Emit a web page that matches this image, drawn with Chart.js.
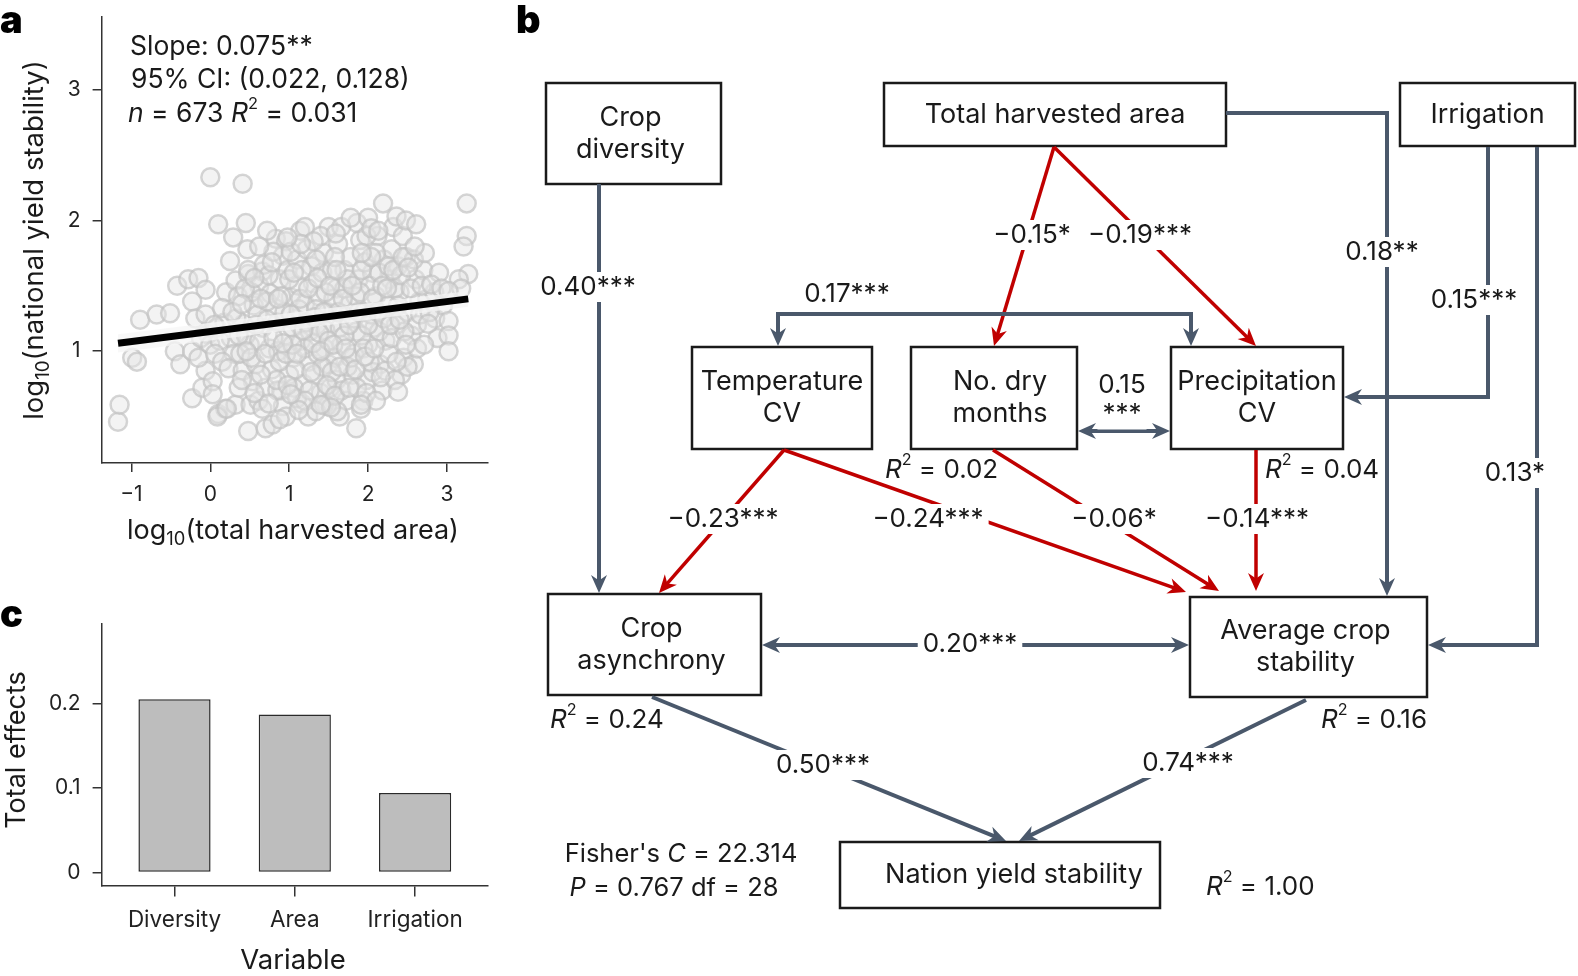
<!DOCTYPE html>
<html>
<head>
<meta charset="utf-8">
<script src="https://cdn.jsdelivr.net/npm/chart.js@4.4.1/dist/chart.umd.min.js"></script>
<style>
  html, body { margin: 0; padding: 0; background: #fff; }
  #wrap { position: relative; width: 1578px; height: 976px; }
  canvas { position: absolute; left: 0; top: 0; }
</style>
</head>
<body>
<div id="wrap">
  <canvas id="scatterChart" width="1578" height="976"></canvas>
  <canvas id="barChart" width="1578" height="976"></canvas>
  <canvas id="pathChart" width="1578" height="976"></canvas>
</div>
<script>
// ---- data ----
// panel a: log10(total harvested area) vs log10(national yield stability)
const areaStabilityPoints = [
  [-1.17,0.46],[-1.15,0.59],[-0.99,0.95],[-0.93,0.92],[-0.89,1.24],[-0.68,1.28],[-0.51,1.29],
  [-0.45,1.00],[-0.38,0.90],[-0.42,1.50],[-0.28,1.55],[-0.15,1.56],[-0.06,1.47],[-0.23,1.38],
  [-0.19,1.25],[-0.06,1.28],[-0.03,1.13],[-0.23,1.00],[-0.23,0.64],[-0.06,0.85],[-0.10,0.72],
  [-0.12,1.10],[-0.15,0.95],[0.00,1.05],[0.08,1.18],[0.18,1.22],[0.26,1.10],[0.30,0.98],
  [0.05,1.20],[0.12,1.08],[0.20,1.45],
  [0.00,2.33],[0.41,2.28],[0.10,1.97],[0.45,1.98],[0.29,1.87],[0.47,1.78],[0.25,1.69],
  [0.03,0.77],[0.03,0.67],[0.10,0.52],[0.19,0.56],[0.32,0.59],[0.48,0.39],[0.70,0.41],[0.79,0.44],
  [0.09,0.50],[0.21,0.56],[0.51,0.59],
  [0.32,1.54],[0.48,1.59],[0.66,1.61],[0.83,1.86],[0.96,1.84],[0.92,1.73],[0.15,1.33],
  [0.06,0.98],[0.15,0.92],[0.23,0.87],[0.41,0.85],[0.54,0.77],[0.61,0.62],[0.66,0.56],[0.36,0.72],
  [0.35,1.42],[0.42,1.21],[0.50,1.05],[0.38,0.98],[0.55,1.35],[0.62,1.50],[0.48,1.62],[0.58,0.90],
  [0.66,1.18],[0.70,0.72],[0.45,1.12],[0.60,1.28],[0.33,1.25],[0.52,1.45],[0.68,1.66],[0.40,0.78],
  [0.75,1.02],[0.82,1.33],[0.88,1.55],[0.78,0.86],[0.95,1.12],[1.02,1.41],[0.90,0.70],[0.85,1.22],
  [1.05,0.95],[0.98,1.62],[0.80,1.76],[1.08,1.25],[0.92,0.58],[0.76,1.44],[1.00,0.82],[1.10,1.70],
  [1.15,1.08],[1.20,1.36],[1.25,0.92],[1.30,1.52],[1.18,0.75],[1.35,1.20],[1.40,0.68],[1.28,1.65],
  [1.45,1.02],[1.38,1.42],[1.22,1.78],[1.48,1.30],[1.32,0.82],[1.42,1.60],[1.16,0.60],[1.50,0.90],
  [1.26,1.15],[1.44,1.75],
  [1.55,1.22],[1.60,1.48],[1.52,0.72],[1.66,1.05],[1.70,1.62],[1.58,0.95],[1.75,1.35],[1.80,0.82],
  [1.62,1.82],[1.72,0.62],[1.85,1.15],[1.68,1.28],[1.88,1.55],[1.56,1.40],[1.78,1.72],[1.82,0.98],
  [1.64,0.50],[1.90,1.85],
  [1.95,1.30],[2.00,1.05],[2.05,1.60],[1.98,0.78],[2.10,1.42],[2.15,0.90],[2.20,1.70],[2.08,1.18],
  [2.25,1.35],[2.12,1.88],[2.18,0.70],[2.28,1.55],[2.02,1.50],[2.22,1.08],[2.30,1.78],[1.94,0.62],
  [2.35,1.20],[2.40,1.45],[2.45,0.95],[2.38,1.65],[2.50,1.30],[2.55,1.12],[2.42,0.82],[2.60,1.55],
  [2.48,1.72],[2.65,1.38],[2.58,0.90],
  [0.62,1.08],[0.72,1.38],[0.86,1.00],[0.94,1.30],[1.04,1.18],[1.12,1.50],[1.20,1.02],[1.34,1.32],
  [1.46,1.16],[1.54,1.62],[1.64,1.18],[1.74,0.88],[1.84,1.42],[1.92,1.12],[2.04,1.28],[2.14,1.60],
  [2.26,0.98],[1.36,0.98],[1.06,0.72],[0.88,0.92],[1.60,0.78],[1.70,1.48],[1.96,1.68],[2.34,1.48],
  [0.56,0.68],[1.24,0.50],[1.48,0.58],[2.06,0.84],[1.14,1.92],[1.50,1.95],[0.72,1.92],[1.86,1.98],
  [2.32,1.95],[2.44,1.88],[2.70,1.62],[2.75,1.40],[2.85,1.25],[2.90,1.60],[2.62,1.20],[2.95,1.35],
  [1.44,0.59],[1.61,0.54],[1.91,0.56],[1.10,0.64],[0.85,0.70],
  [0.28,1.30],[0.36,1.12],[0.44,1.48],[0.52,0.95],[0.58,1.20],[0.64,1.40],[0.70,0.98],[0.74,1.58],
  [0.80,1.10],[0.84,0.78],[0.90,1.42],[0.96,0.98],[1.00,1.55],[1.04,1.05],[1.08,0.86],[1.12,1.32],
  [1.16,1.62],[1.22,1.22],[1.26,0.70],[1.30,1.06],[1.34,1.70],[1.38,1.14],[1.42,0.88],[1.46,1.45],
  [1.50,1.08],[1.54,0.84],[1.58,1.72],[1.62,1.30],[1.66,0.70],[1.70,1.12],[1.74,1.55],[1.78,0.95],
  [1.82,1.25],[1.86,0.72],[1.90,1.45],[1.94,1.02],[1.98,1.88],[2.02,0.92],[2.06,1.40],[2.10,1.75],
  [2.14,1.15],[2.18,1.50],[2.22,0.85],[2.26,1.65],[2.30,1.10],[2.34,0.78],[2.38,1.35],[2.42,1.58],
  [2.46,1.15],[2.50,0.88],[2.54,1.48],[2.58,1.70],[2.62,1.02],[2.66,1.28],[2.72,1.75],[2.78,1.30],
  [2.84,1.45],[2.88,1.10],
  [0.40,1.36],[0.46,1.00],[0.56,1.56],[0.64,0.82],[0.72,1.24],[0.78,1.68],[0.86,1.40],[0.92,1.06],
  [0.98,0.74],[1.02,1.28],[1.06,1.60],[1.10,0.98],[1.14,1.40],[1.18,1.16],[1.24,1.48],[1.28,0.84],
  [1.32,1.26],[1.36,1.56],[1.40,1.00],[1.44,1.30],[1.48,0.74],[1.52,1.50],[1.56,1.05],[1.60,1.62],
  [1.64,0.88],[1.68,1.40],[1.72,1.02],[1.76,1.20],[1.80,1.50],[1.84,0.86],[1.88,1.30],[1.92,1.62],
  [1.96,0.96],[2.00,1.20],[2.04,1.72],[2.08,1.02],[2.12,1.30],[2.16,0.80],[2.20,1.25],[2.24,1.48],
  [2.28,1.20],[2.32,1.62],[2.36,0.92],[2.40,1.24],[2.44,1.72],[2.48,1.05],
  [0.74,0.60],[0.96,0.50],[1.20,0.62],[1.34,0.54],[1.58,0.66],[1.76,0.72],[1.98,0.68],[2.10,0.62],
  [0.88,0.48],[1.12,0.55],
  [1.20,1.95],[1.40,1.88],[1.66,1.95],[1.92,1.75],[1.02,1.76],[0.62,1.80],[2.00,2.02],
  [2.19,2.13],[1.78,2.02],[2.36,2.03],[2.48,2.00],[2.61,1.97],[2.59,1.80],[3.25,2.13],[3.25,1.88],
  [3.21,1.80],[3.27,1.59],[3.15,1.55],[3.18,1.48],[2.68,1.50],[2.80,1.51],[2.93,1.48],[3.02,1.46],
  [2.76,1.21],[3.02,1.23],[3.02,1.12],[3.02,1.00],[2.71,1.05],[2.51,1.64],[2.38,0.69],[1.85,0.41],
  [1.53,0.57],[1.40,0.59],[1.91,0.59],[1.02,0.67],[2.04,1.94],[2.13,1.92],[1.59,1.90],[1.31,1.84],
  [1.15,1.82],[0.98,1.87]
];
const fitX = [-1.17, 3.27];
const fitY = [1.06, 1.40];
const ciLower = [0.99, 1.34];
const ciUpper = [1.13, 1.46];
const scatterXTicks = [-1, 0, 1, 2, 3];
const scatterYTicks = [1, 2, 3];
const fitSlope = '0.075**';
const fitCI = ['0.022', '0.128'];
const fitN = '673';
const fitR2 = '0.031';

// panel c: total effects
const barLabels = ['Diversity', 'Area', 'Irrigation'];
const barValues = [0.205, 0.187, 0.094];
const barTicks = [0, 0.1, 0.2];

// panel b: path model
const nodeNames = [
  ['Crop', 'diversity'], ['Total harvested area'], ['Irrigation'],
  ['Temperature', 'CV'], ['No. dry', 'months'], ['Precipitation', 'CV'],
  ['Crop', 'asynchrony'], ['Average crop', 'stability'], ['Nation yield stability']
];
const pathCoefs = [
  '0.40***', '−0.15*', '−0.19***', '0.18**', '0.15***', '0.13*', '0.17***', '0.15\n***',
  '−0.23***', '−0.24***', '−0.06*', '−0.14***', '0.20***', '0.50***', '0.74***'
];
const rSquared = ['0.02', '0.04', '0.24', '0.16', '1.00'];
const fisherC = '22.314';
const fisherP = '0.767';
const fisherDf = '28';

// ---- layout / style ----
const FONT = 'Inter, "Noto Sans", sans-serif';
const INK = '#1a1a1a';
const SLATE = '#4a586b';
const RED = '#c00000';

// x, y, w, h, text x-offset
const nodeBoxes = [
  [546, 83, 175, 101, -3], [884, 83, 342, 63, 0], [1400, 83, 175, 63, 0],
  [692, 347, 180, 102, 0], [911, 347, 166, 102, 6], [1171, 347, 172, 102, 0],
  [548, 594, 213, 101, -3], [1190, 597, 237, 100, -3], [840, 842, 320, 66, 14]
];
const pathGeom = [
  { pts: [[599, 184], [599, 593]], head: 'end', lab: [588, 287] },
  { pts: [[1054, 147], [994, 346]], head: 'end', lab: [1032, 235] },
  { pts: [[1054, 147], [1256, 346]], head: 'end', lab: [1140, 235] },
  { pts: [[1226, 113], [1387, 113], [1387, 596]], head: 'end', lab: [1382, 252] },
  { pts: [[1488, 147], [1488, 397], [1344, 397]], head: 'end', lab: [1474, 300] },
  { pts: [[1537, 147], [1537, 645], [1428, 645]], head: 'end', lab: [1515, 473] },
  { pts: [[778, 346], [778, 314], [1191, 314], [1191, 346]], head: 'both', lab: [847, 294] },
  { pts: [[1078, 431], [1170, 431]], head: 'both', lab: [1122, 400] },
  { pts: [[784, 450], [659, 593]], head: 'end', lab: [723, 519] },
  { pts: [[784, 450], [1186, 592]], head: 'end', lab: [928, 519] },
  { pts: [[993, 450], [1219, 591]], head: 'end', lab: [1114, 519] },
  { pts: [[1256, 450], [1256, 591]], head: 'end', lab: [1257, 519] },
  { pts: [[762, 645], [1189, 645]], head: 'both', lab: [970, 644] },
  { pts: [[652, 697], [1006, 841]], head: 'end', lab: [823, 765] },
  { pts: [[1306, 700], [1019, 841]], head: 'end', lab: [1188, 763] }
];
const r2Pos = [[885, 470], [1265, 470], [550, 720], [1321, 720], [1206, 887]];

// ---- helpers ----
function richText(ctx, parts, x, y, size, align) {
  const segs = parts.map(p => {
    const s = p.sup ? size * 0.62 : p.sub ? size * 0.68 : size;
    const f = (p.it ? 'italic ' : '') + s + 'px ' + FONT;
    ctx.font = f;
    return { p, f, w: ctx.measureText(p.t).width };
  });
  const total = segs.reduce((a, s) => a + s.w, 0);
  let cx = align === 'center' ? x - total / 2 : align === 'right' ? x - total : x;
  ctx.textAlign = 'left';
  ctx.textBaseline = 'middle';
  segs.forEach(s => {
    ctx.font = s.f;
    const dy = s.p.sup ? -size * 0.36 : s.p.sub ? size * 0.3 : 0;
    ctx.fillText(s.p.t, cx, y + dy);
    cx += s.w;
  });
}

function panelLetter(ctx, ch, x, y) {
  ctx.save();
  ctx.fillStyle = '#000';
  ctx.font = '900 38px Inter, "Liberation Sans", sans-serif';
  ctx.textAlign = 'left';
  ctx.textBaseline = 'alphabetic';
  ctx.fillText(ch, x, y);
  ctx.restore();
}

function arrowHead(ctx, tip, from, color) {
  const len = 18, half = 8;
  const dx = tip[0] - from[0], dy = tip[1] - from[1];
  const d = Math.hypot(dx, dy), ux = dx / d, uy = dy / d;
  const bx = tip[0] - ux * len, by = tip[1] - uy * len;
  ctx.beginPath();
  ctx.moveTo(tip[0], tip[1]);
  ctx.lineTo(bx - uy * half, by + ux * half);
  ctx.lineTo(tip[0] - ux * len * 0.7, tip[1] - uy * len * 0.7);
  ctx.lineTo(bx + uy * half, by - ux * half);
  ctx.closePath();
  ctx.fillStyle = color;
  ctx.fill();
}

function drawPath(ctx, pts, col, head, lw) {
  const cut = (a, b) => {
    const dx = b[0] - a[0], dy = b[1] - a[1], d = Math.hypot(dx, dy);
    return [a[0] + dx / d * 11, a[1] + dy / d * 11];
  };
  const p = pts.slice();
  const n = p.length;
  p[n - 1] = cut(pts[n - 1], pts[n - 2]);
  if (head === 'both') p[0] = cut(pts[0], pts[1]);
  ctx.strokeStyle = col;
  ctx.lineWidth = lw;
  ctx.lineJoin = 'miter';
  ctx.beginPath();
  p.forEach((q, i) => i ? ctx.lineTo(q[0], q[1]) : ctx.moveTo(q[0], q[1]));
  ctx.stroke();
  arrowHead(ctx, pts[n - 1], pts[n - 2], col);
  if (head === 'both') arrowHead(ctx, pts[0], pts[1], col);
}

const axisGrid = { drawOnChartArea: false, drawTicks: true, tickLength: 9, color: '#333', lineWidth: 1.5, offset: false };
const axisBorder = { color: '#333', width: 1.5 };
const tickFont = { family: FONT, size: 21 };
function fitV(s) { s.width = 70; s.paddingTop = 0; s.paddingBottom = 0; }
function fitH(s) { s.height = 60; s.paddingLeft = 0; s.paddingRight = 0; }

// ---- panel a ----
const scatterText = {
  id: 'scatterText',
  afterDraw(chart) {
    const ctx = chart.ctx;
    ctx.save();
    ctx.fillStyle = INK;
    richText(ctx, [{ t: 'Slope: ' + fitSlope }], 130, 47, 26.5, 'left');
    richText(ctx, [{ t: '95% CI: (' + fitCI[0] + ', ' + fitCI[1] + ')' }], 131, 80, 26.5, 'left');
    richText(ctx, [{ t: 'n', it: 1 }, { t: ' = ' + fitN + ' ' }, { t: 'R', it: 1 }, { t: '2', sup: 1 }, { t: ' = ' + fitR2 }], 128, 114, 26.5, 'left');
    richText(ctx, [{ t: 'log' }, { t: '10', sub: 1 }, { t: '(total harvested area)' }], 293, 531, 27, 'center');
    ctx.translate(35, 240);
    ctx.rotate(-Math.PI / 2);
    richText(ctx, [{ t: 'log' }, { t: '10', sub: 1 }, { t: '(national yield stability)' }], 0, 0, 27.5, 'center');
    ctx.restore();
    panelLetter(ctx, 'a', 0, 33);
  }
};

new Chart(document.getElementById('scatterChart'), {
  type: 'scatter',
  data: {
    datasets: [
      {
        type: 'line', order: 0,
        data: fitX.map((x, i) => ({ x, y: fitY[i] })),
        borderColor: '#000', borderWidth: 7, pointRadius: 0, borderCapStyle: 'butt'
      },
      {
        type: 'line', order: 1,
        data: fitX.map((x, i) => ({ x, y: ciUpper[i] })),
        borderWidth: 0, pointRadius: 0, fill: '+1', backgroundColor: 'rgba(246,246,246,0.75)'
      },
      {
        type: 'line', order: 1,
        data: fitX.map((x, i) => ({ x, y: ciLower[i] })),
        borderWidth: 0, pointRadius: 0
      },
      {
        order: 2,
        data: areaStabilityPoints.map(p => ({ x: p[0], y: p[1] })),
        pointRadius: 9, borderWidth: 2.5,
        borderColor: 'rgba(195,195,195,0.7)',
        backgroundColor: 'rgba(228,228,228,0.45)'
      }
    ]
  },
  options: {
    responsive: false,
    animation: false,
    devicePixelRatio: 1,
    layout: { autoPadding: false, padding: { left: 31.6, top: 17, right: 1090, bottom: 453 } },
    plugins: { legend: { display: false }, tooltip: { enabled: false } },
    scales: {
      x: {
        type: 'linear', min: -1.378, max: 3.52,
        afterFit: fitH,
        afterBuildTicks(s) { s.ticks = scatterXTicks.map(v => ({ value: v })); },
        ticks: { font: tickFont, color: '#222', padding: 10, maxRotation: 0, autoSkip: false,
          callback: v => v < 0 ? '−' + Math.abs(v) : String(v) },
        grid: axisGrid, border: axisBorder
      },
      y: {
        type: 'linear', min: 0.145, max: 3.555,
        afterFit: fitV,
        afterBuildTicks(s) { s.ticks = scatterYTicks.map(v => ({ value: v })); },
        ticks: { font: tickFont, color: '#222', padding: 12 },
        grid: axisGrid, border: axisBorder
      }
    }
  },
  plugins: [scatterText]
});

// ---- panel c ----
const barText = {
  id: 'barText',
  afterDraw(chart) {
    const ctx = chart.ctx;
    ctx.save();
    ctx.fillStyle = INK;
    richText(ctx, [{ t: 'Variable' }], 293, 961, 27.5, 'center');
    ctx.translate(17, 750);
    ctx.rotate(-Math.PI / 2);
    richText(ctx, [{ t: 'Total effects' }], 0, 0, 27, 'center');
    ctx.restore();
    panelLetter(ctx, 'c', 0, 627);
  }
};

new Chart(document.getElementById('barChart'), {
  type: 'bar',
  data: {
    datasets: [{
      data: barValues.map((v, i) => ({ x: i + 1, y: v })),
      backgroundColor: '#bdbdbd', borderColor: '#2a2a2a', borderWidth: 1.5,
      borderSkipped: false, barPercentage: 0.6, categoryPercentage: 1
    }]
  },
  options: {
    responsive: false,
    animation: false,
    devicePixelRatio: 1,
    layout: { autoPadding: false, padding: { left: 31.6, top: 624, right: 1090, bottom: 30.4 } },
    plugins: { legend: { display: false }, tooltip: { enabled: false } },
    scales: {
      x: {
        type: 'linear', min: 0.394, max: 3.606, offset: false,
        afterFit: fitH,
        afterBuildTicks(s) { s.ticks = barLabels.map((l, i) => ({ value: i + 1 })); },
        ticks: { font: { family: FONT, size: 22.5 }, color: '#222', padding: 10, maxRotation: 0, autoSkip: false,
          callback: v => barLabels[v - 1] || '' },
        grid: { ...axisGrid, tickLength: 11 }, border: axisBorder
      },
      y: {
        type: 'linear', min: -0.0155, max: 0.294,
        afterFit: fitV,
        afterBuildTicks(s) { s.ticks = barTicks.map(v => ({ value: v })); },
        ticks: { font: tickFont, color: '#222', padding: 12,
          callback: v => v === 0 ? '0' : v.toFixed(1) },
        grid: axisGrid, border: axisBorder
      }
    }
  },
  plugins: [barText]
});

// ---- panel b ----
const diagram = {
  id: 'diagram',
  afterDraw(chart) {
    const { ctx, scales: { x, y } } = chart;
    const P = p => [x.getPixelForValue(p[0]), y.getPixelForValue(p[1])];
    ctx.save();

    // boxes
    nodeBoxes.forEach((b, i) => {
      const [x0, y0] = P([b[0], b[1]]);
      const [x1, y1] = P([b[0] + b[2], b[1] + b[3]]);
      ctx.fillStyle = '#fff';
      ctx.fillRect(x0, y0, x1 - x0, y1 - y0);
      ctx.strokeStyle = INK;
      ctx.lineWidth = 2.5;
      ctx.strokeRect(x0, y0, x1 - x0, y1 - y0);
      ctx.fillStyle = INK;
      ctx.font = '27px ' + FONT;
      ctx.textAlign = 'center';
      ctx.textBaseline = 'middle';
      const lines = nodeNames[i];
      lines.forEach((t, j) => ctx.fillText(t, (x0 + x1) / 2 + b[4], (y0 + y1) / 2 + (j - (lines.length - 1) / 2) * 32));
    });

    // paths
    pathGeom.forEach((g, i) => {
      const col = pathCoefs[i].startsWith('−') ? RED : SLATE;
      drawPath(ctx, g.pts.map(P), col, g.head, col === RED ? 3.5 : 4);
    });

    // coefficient labels
    ctx.font = '26px ' + FONT;
    ctx.textAlign = 'center';
    ctx.textBaseline = 'middle';
    pathGeom.forEach((g, i) => {
      const [cx, cy] = P(g.lab);
      const lines = pathCoefs[i].split('\n');
      lines.forEach((t, j) => {
        const ly = cy + (j - (lines.length - 1) / 2) * 29;
        const w = ctx.measureText(t).width;
        ctx.fillStyle = '#fff';
        ctx.fillRect(cx - w / 2 - 5, ly - 15, w + 10, 30);
        ctx.fillStyle = INK;
        ctx.fillText(t, cx, ly);
      });
    });

    // R² labels
    ctx.fillStyle = INK;
    rSquared.forEach((v, i) => {
      const [lx, ly] = P(r2Pos[i]);
      richText(ctx, [{ t: 'R', it: 1 }, { t: '2', sup: 1 }, { t: ' = ' + v }], lx, ly, 26, 'left');
    });

    // fit statistics
    const [fx, fy] = P([681, 854]);
    richText(ctx, [{ t: "Fisher's " }, { t: 'C', it: 1 }, { t: ' = ' + fisherC }], fx, fy, 25.5, 'center');
    const [gx, gy] = P([674, 888]);
    richText(ctx, [{ t: 'P', it: 1 }, { t: ' = ' + fisherP + ' df = ' + fisherDf }], gx, gy, 25.5, 'center');
    ctx.restore();
    panelLetter(ctx, 'b', 516, 33);
  }
};

new Chart(document.getElementById('pathChart'), {
  type: 'scatter',
  data: {
    datasets: [{
      data: nodeBoxes.map(b => ({ x: b[0] + b[2] / 2, y: b[1] + b[3] / 2 })),
      pointRadius: 0
    }]
  },
  options: {
    responsive: false,
    animation: false,
    devicePixelRatio: 1,
    layout: { autoPadding: false, padding: 0 },
    plugins: { legend: { display: false }, tooltip: { enabled: false } },
    scales: {
      x: { type: 'linear', display: false, min: 0, max: 1578 },
      y: { type: 'linear', display: false, min: 0, max: 976, reverse: true }
    }
  },
  plugins: [diagram]
});
</script>
</body>
</html>
